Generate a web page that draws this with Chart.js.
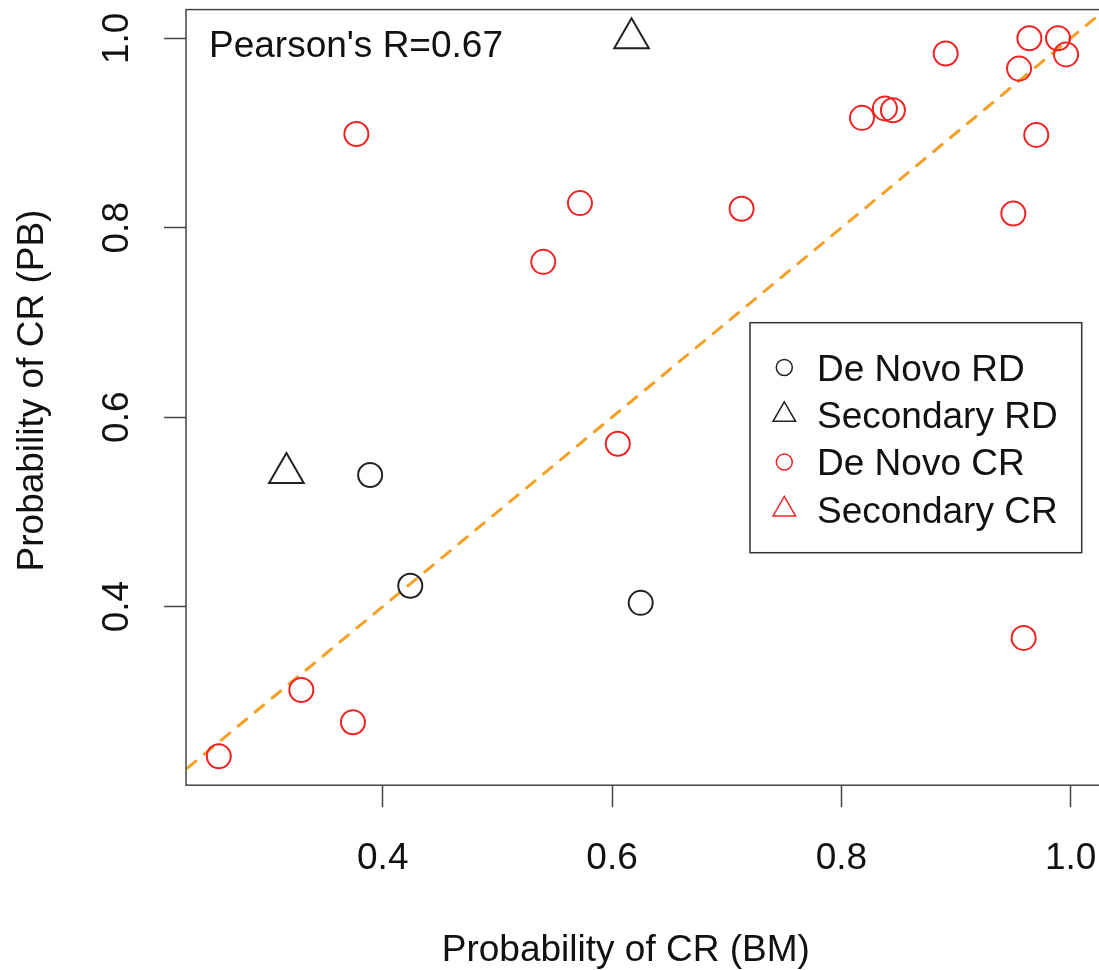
<!DOCTYPE html>
<html><head><meta charset="utf-8">
<script src="https://cdn.jsdelivr.net/npm/chart.js@4"></script>
<style>html,body{margin:0;padding:0;overflow:hidden;background:#fff}</style>
</head><body>
<canvas id="c" width="1104" height="970"></canvas>
<script>
// ---- data ----
const seriesLabels = ['De Novo RD', 'Secondary RD', 'De Novo CR', 'Secondary CR'];
const deNovoRD_x = [0.389, 0.424, 0.625];
const deNovoRD_y = [0.539, 0.422, 0.404];
const secondaryRD_x = [0.316, 0.617];
const secondaryRD_y = [0.541, 1.000];
const deNovoCR_x = [0.257, 0.329, 0.374, 0.377, 0.540, 0.572, 0.605, 0.713, 0.818, 0.838, 0.845, 0.891, 0.950, 0.955, 0.964, 0.989, 0.996, 0.970, 0.959];
const deNovoCR_y = [0.242, 0.312, 0.278, 0.899, 0.764, 0.826, 0.572, 0.820, 0.916, 0.926, 0.924, 0.984, 0.815, 0.968, 1.000, 1.000, 0.983, 0.898, 0.367];
const secondaryCR_x = [];
const secondaryCR_y = [];
const identityLine = [0.2, 1.1];   // y = x reference line
const xTicks = [0.4, 0.6, 0.8, 1.0];
const yTicks = [0.4, 0.6, 0.8, 1.0];
const xRange = [0.2284, 1.0256];
const yRange = [0.2115, 1.0303];
const annotationText = "Pearson's R=0.67";
const xTitle = 'Probability of CR (BM)';
const yTitle = 'Probability of CR (PB)';

// ---- styles ----
const FONT = '"Liberation Sans", Arial, sans-serif';
const FS = 37;
const BLACK = '#222222';
const RED = '#ee2424';
const ORANGE = '#f5a024';
const AXIS = '#444444';

function pts(xs, ys) { return xs.map((x, i) => ({x: x, y: ys[i]})); }

function scatterSet(label, xs, ys, color, style) {
  return {
    type: 'scatter', label: label, data: pts(xs, ys),
    pointStyle: style, pointRadius: style === 'triangle' ? 20 : 12,
    pointHoverRadius: style === 'triangle' ? 20 : 12,
    pointBorderColor: color, pointBackgroundColor: 'rgba(0,0,0,0)',
    pointBorderWidth: 2, borderColor: color, backgroundColor: 'rgba(0,0,0,0)',
    legendRadius: style === 'triangle' ? 13 : 8
  };
}

function noPad(s) { s.paddingLeft = 0; s.paddingRight = 0; s.paddingTop = 0; s.paddingBottom = 0; }

const decor = {
  id: 'decor',
  afterDraw(chart) {
    const ctx = chart.ctx, a = chart.chartArea;
    ctx.save();
    // plot box
    ctx.strokeStyle = AXIS; ctx.lineWidth = 1.5;
    ctx.strokeRect(a.left, a.top, a.right - a.left, a.bottom - a.top);
    // annotation
    ctx.fillStyle = '#111'; ctx.font = FS + 'px ' + FONT;
    ctx.textAlign = 'left'; ctx.textBaseline = 'alphabetic';
    ctx.fillText(annotationText, 209, 57.3);
    // axis titles
    ctx.textAlign = 'center';
    ctx.fillText(xTitle, 625.8, 960.7);
    ctx.save();
    ctx.translate(42.7, 390.5); ctx.rotate(-Math.PI / 2);
    ctx.fillText(yTitle, 0, 0);
    ctx.restore();
    // legend
    const lx = 750, ly = 322.7, lw = 331.7, lh = 230;
    ctx.fillStyle = '#fff'; ctx.fillRect(lx, ly, lw, lh);
    ctx.strokeStyle = '#333'; ctx.lineWidth = 1.5; ctx.strokeRect(lx, ly, lw, lh);
    const ds = chart.data.datasets.filter(d => d.type === 'scatter');
    ds.forEach((d, i) => {
      const cy = 367.5 + i * 47.3;
      ctx.fillStyle = 'rgba(0,0,0,0)';
      ctx.strokeStyle = d.pointBorderColor; ctx.lineWidth = 1.5;
      Chart.helpers.drawPoint(ctx, {pointStyle: d.pointStyle, radius: d.legendRadius, rotation: 0, borderWidth: 1.5}, 784.3, cy);
      ctx.fillStyle = '#111'; ctx.textAlign = 'left'; ctx.font = FS + 'px ' + FONT;
      ctx.fillText(d.label, 817, cy + 13.2);
    });
    ctx.restore();
  }
};

new Chart(document.getElementById('c'), {
  data: {
    datasets: [
      scatterSet(seriesLabels[0], deNovoRD_x, deNovoRD_y, BLACK, 'circle'),
      scatterSet(seriesLabels[1], secondaryRD_x, secondaryRD_y, BLACK, 'triangle'),
      scatterSet(seriesLabels[2], deNovoCR_x, deNovoCR_y, RED, 'circle'),
      scatterSet(seriesLabels[3], secondaryCR_x, secondaryCR_y, RED, 'triangle'),
      {
        type: 'line', label: 'y = x', data: pts(identityLine, identityLine),
        borderColor: ORANGE, borderWidth: 3, borderDash: [11, 11], borderCapStyle: 'round',
        pointRadius: 0, fill: false, order: 10
      }
    ]
  },
  options: {
    responsive: false, animation: false,
    layout: {autoPadding: false, padding: {left: 0, top: 9.6, right: 4, bottom: 0}},
    plugins: {legend: {display: false}, tooltip: {enabled: false}},
    scales: {
      x: {
        type: 'linear', position: 'bottom', min: xRange[0], max: xRange[1],
        afterBuildTicks: s => { s.ticks = xTicks.map(v => ({value: v})); },
        afterFit: s => { s.height = 970 - 785.2; noPad(s); },
        border: {display: false},
        grid: {drawOnChartArea: false, drawTicks: true, tickLength: 22, tickColor: AXIS, tickWidth: 1.5},
        ticks: {autoSkip: false, maxRotation: 0, minRotation: 0, padding: 29, color: '#111',
                font: {family: FONT, size: FS}, callback: v => Number(v).toFixed(1)}
      },
      y: {
        type: 'linear', position: 'left', min: yRange[0], max: yRange[1],
        afterBuildTicks: s => { s.ticks = yTicks.map(v => ({value: v})); },
        afterFit: s => { s.width = 186; noPad(s); },
        border: {display: false},
        grid: {drawOnChartArea: false, drawTicks: true, tickLength: 22, tickColor: AXIS, tickWidth: 1.5},
        ticks: {autoSkip: false, minRotation: 90, maxRotation: 90, crossAlign: 'center', padding: 20, color: '#111',
                font: {family: FONT, size: FS}, callback: v => Number(v).toFixed(1)}
      }
    }
  },
  plugins: [decor]
});
</script>
</body></html>
